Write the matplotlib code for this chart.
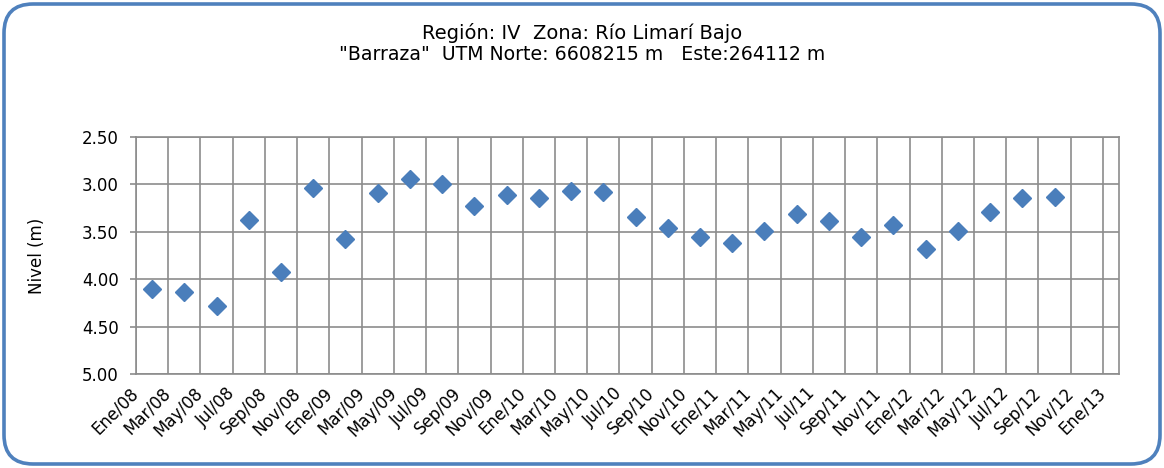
import matplotlib.pyplot as plt
from matplotlib.patches import FancyBboxPatch
from matplotlib.ticker import FormatStrFormatter

# monthly water level readings, station Barraza
fechas = ['Feb/08', 'Abr/08', 'Jun/08', 'Ago/08', 'Oct/08', 'Dic/08',
          'Feb/09', 'Abr/09', 'Jun/09', 'Ago/09', 'Oct/09', 'Dic/09',
          'Feb/10', 'Abr/10', 'Jun/10', 'Ago/10', 'Oct/10', 'Dic/10',
          'Feb/11', 'Abr/11', 'Jun/11', 'Ago/11', 'Oct/11', 'Dic/11',
          'Feb/12', 'Abr/12', 'Jun/12', 'Ago/12', 'Oct/12']
nivel = [4.10, 4.14, 4.28, 3.38, 3.92, 3.04,
         3.58, 3.09, 2.94, 3.00, 3.23, 3.11,
         3.14, 3.07, 3.08, 3.34, 3.46, 3.56,
         3.62, 3.49, 3.31, 3.39, 3.56, 3.43,
         3.68, 3.49, 3.29, 3.14, 3.13]

ticks_lbl = ['Ene/08', 'Mar/08', 'May/08', 'Jul/08', 'Sep/08', 'Nov/08',
             'Ene/09', 'Mar/09', 'May/09', 'Jul/09', 'Sep/09', 'Nov/09',
             'Ene/10', 'Mar/10', 'May/10', 'Jul/10', 'Sep/10', 'Nov/10',
             'Ene/11', 'Mar/11', 'May/11', 'Jul/11', 'Sep/11', 'Nov/11',
             'Ene/12', 'Mar/12', 'May/12', 'Jul/12', 'Sep/12', 'Nov/12',
             'Ene/13']

meses = ['Ene', 'Feb', 'Mar', 'Abr', 'May', 'Jun',
         'Jul', 'Ago', 'Sep', 'Oct', 'Nov', 'Dic']

def mes_index(s):
    # months elapsed since Ene/08
    m, a = s.split('/')
    return (int(a) - 8)*12 + meses.index(m)

x = [mes_index(f) for f in fechas]
xt = [mes_index(t) for t in ticks_lbl]

grid_c = '#8c8c8c'
azul = '#4a7ebb'

plt.rc('font', family='DejaVu Sans')

fig = plt.figure(figsize=(11.64, 4.68), dpi=100)

# rounded frame around the chart
frame = FancyBboxPatch((4/1164, 4/468), 1156/1164, 460/468,
                       boxstyle='round,pad=0,rounding_size=0.025',
                       transform=fig.transFigure,
                       fc='none', ec='#4f81bd', lw=2.6,
                       mutation_aspect=1164/468)
fig.patches.append(frame)

ax = fig.add_axes([136/1164, 1-374/468, 983/1164, 237/468])

ax.plot(x, nivel, ls='none', marker='D', ms=9.5, color=azul, zorder=3)

ax.set_ylim(5.0, 2.5)
ax.set_yticks([2.5, 3.0, 3.5, 4.0, 4.5, 5.0])
ax.yaxis.set_major_formatter(FormatStrFormatter('%.2f'))
ax.set_xlim(0, 61)
ax.set_xticks(xt)
ax.set_xticklabels(ticks_lbl, rotation=45, ha='right', va='center',
                   rotation_mode='anchor')

ax.grid(True, color=grid_c, lw=1.2)
ax.set_axisbelow(True)
for s in ax.spines.values():
    s.set_color(grid_c)
    s.set_linewidth(1.2)

ax.tick_params(axis='y', length=4.5, color=grid_c, width=1.2, labelsize=12, pad=8)
ax.tick_params(axis='x', length=0, labelsize=12, pad=12)

ax.set_ylabel('Nivel (m)', fontsize=12, labelpad=26)

fig.text(0.5, 1-33/468, 'Región: IV  Zona: Río Limarí Bajo',
         ha='center', va='center', fontsize=14)
fig.text(0.5, 1-55/468, '"Barraza"  UTM Norte: 6608215 m   Este:264112 m',
         ha='center', va='center', fontsize=13.6)

fig.savefig('out.png', dpi=100)
